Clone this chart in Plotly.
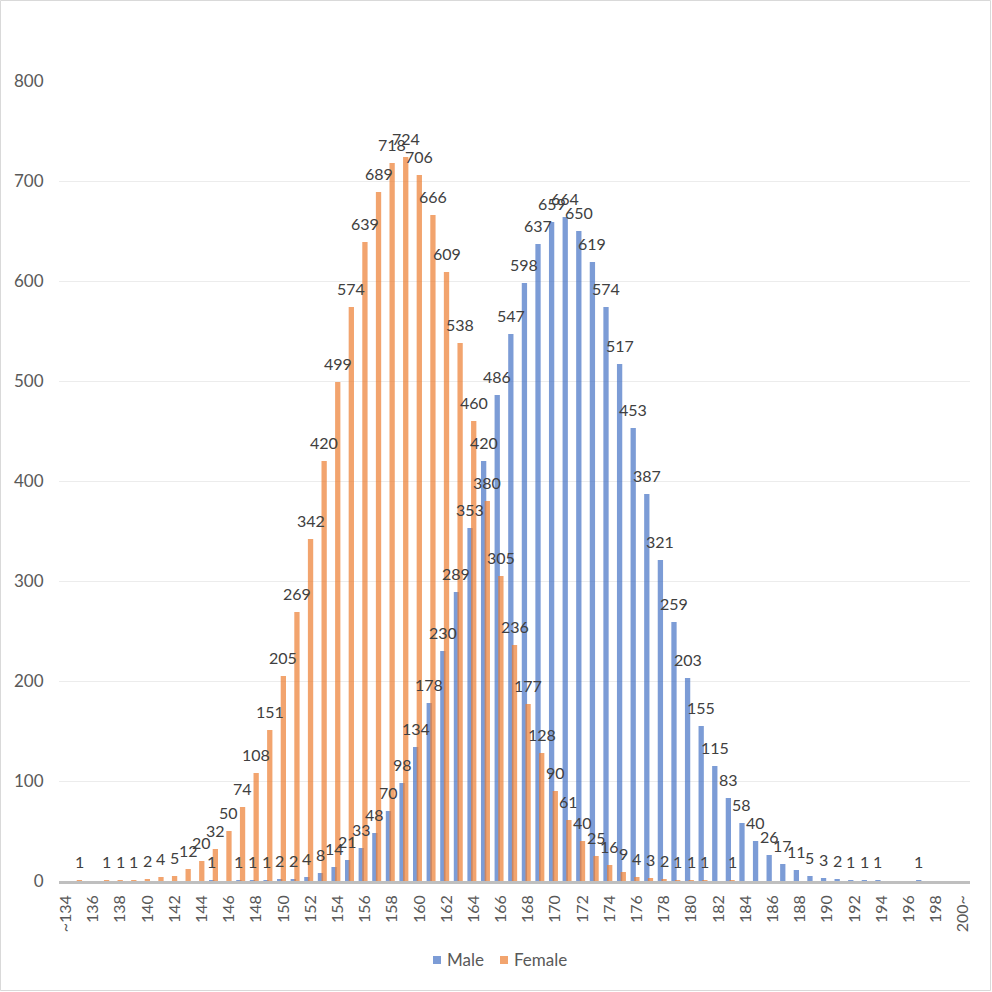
import plotly.graph_objects as go

categories = list(range(134, 201))
tick_labels = ["~134"] + [str(v) for v in range(136, 200, 2)] + ["200~"]

male = [0, 0, 0, 0, 0, 0, 0, 0, 0, 0, 0,          # 134-144
        1, 0, 1, 1, 1, 2, 2, 4, 8, 14,             # 145-154
        21, 33, 48, 70, 98, 134, 178, 230, 289, 353,  # 155-164
        420, 486, 547, 598, 637, 659, 664, 650, 619, 574,  # 165-174
        517, 453, 387, 321, 259, 203, 155, 115, 83, 58,    # 175-184
        40, 26, 17, 11, 5, 3, 2, 1, 1, 1,          # 185-194
        0, 0, 1, 0, 0, 0]                          # 195-200

female = [0, 1, 0, 1, 1, 1, 2, 4, 5, 12, 20,       # 134-144
          32, 50, 74, 108, 151, 205, 269, 342, 420, 499,  # 145-154
          574, 639, 689, 718, 724, 706, 666, 609, 538, 460,  # 155-164
          380, 305, 236, 177, 128, 90, 61, 40, 25, 16,   # 165-174
          9, 4, 3, 2, 1, 1, 1, 0, 1, 0,              # 175-184
          0, 0, 0, 0, 0, 0, 0, 0, 0, 0,              # 185-194
          0, 0, 0, 0, 0, 0]                          # 195-200

series_names = ["Male", "Female"]
series_colors = ["rgba(68,114,196,0.7)", "rgba(237,125,49,0.7)"]

xpos = list(range(len(categories)))
FONT = "Lato"
BW = 0.39
OFF_M, OFF_F = -0.465, -0.195

fig = go.Figure()
for name, vals, col, off in zip(series_names, (male, female), series_colors, (OFF_M, OFF_F)):
    fig.add_trace(go.Bar(
        name=name, x=xpos, y=vals,
        marker=dict(color=col, line=dict(width=0)),
        width=BW, offset=off, hoverinfo="x+y", showlegend=False,
    ))

annotations = []
for vals, off in ((male, OFF_M), (female, OFF_F)):
    for xi, v in zip(xpos, vals):
        if v:
            annotations.append(dict(
                x=xi + off + BW / 2, y=v, xref="x", yref="y",
                text=str(v), showarrow=False, yanchor="bottom", xanchor="center",
                yshift=7, font=dict(family=FONT, size=16, color="#404040")))

W, H = 992, 992
ml, mr, mt, mb = 59, 22, 81, 111
pw, ph = W - ml - mr, H - mt - mb

def px_x(px):
    return (px - ml) / pw

def px_y(py):
    return (mt + ph - py) / ph

shapes = [dict(type="rect", xref="paper", yref="paper",
               x0=px_x(0.5), x1=px_x(W - 1.5), y0=px_y(H - 1.5), y1=px_y(0.5),
               line=dict(color="#d9d9d9", width=1), fillcolor="rgba(0,0,0,0)",
               layer="below")]

# legend (bottom centre)
legend_pos = [433, 500]
for name, col, lx in zip(series_names, series_colors, legend_pos):
    shapes.append(dict(type="rect", xref="paper", yref="paper",
                       x0=px_x(lx), x1=px_x(lx + 8), y0=px_y(964), y1=px_y(956),
                       line=dict(width=0), fillcolor=col))
    annotations.append(dict(x=px_x(lx + 12), y=px_y(960), xref="paper", yref="paper",
                            text=name, showarrow=False, xanchor="left", yanchor="middle",
                            font=dict(family=FONT, size=17, color="#595959")))

fig.update_layout(
    width=W, height=H,
    margin=dict(l=ml, r=mr, t=mt, b=mb, pad=0),
    barmode="overlay",
    paper_bgcolor="white", plot_bgcolor="white",
    font=dict(family=FONT, size=16, color="#595959"),
    showlegend=False,
    xaxis=dict(range=[-0.5, len(categories) - 0.5],
               tickmode="array", tickvals=xpos[::2], ticktext=tick_labels,
               tickangle=-90, showgrid=False, zeroline=False,
               showline=True, linecolor="#bfbfbf", linewidth=2.5,
               ticks="outside", ticklen=5, tickcolor="rgba(0,0,0,0)",
               tickfont=dict(family=FONT, size=16, color="#595959")),
    yaxis=dict(range=[0, 800], dtick=100, showgrid=True, gridcolor="#ececec",
               gridwidth=1, zeroline=False, showline=False,
               ticks="outside", ticklen=11, tickcolor="rgba(0,0,0,0)",
               tickfont=dict(family=FONT, size=17, color="#595959")),
    annotations=annotations,
    shapes=shapes,
)

fig.write_html("out.html", config={"displayModeBar": False},
               post_script="document.body.style.margin='0';document.body.style.overflow='hidden';")
